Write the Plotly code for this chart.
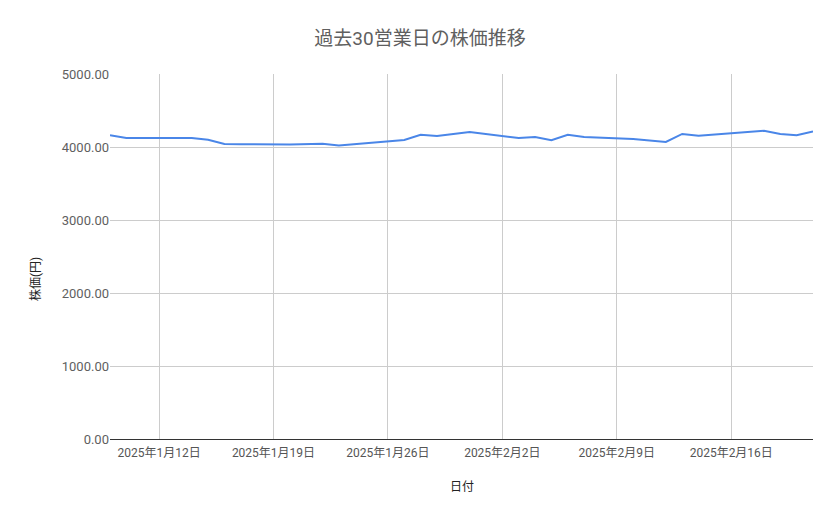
import plotly.graph_objects as go

dates = ["2025-01-09", "2025-01-10", "2025-01-14", "2025-01-15", "2025-01-16", "2025-01-17",
         "2025-01-20", "2025-01-21", "2025-01-22", "2025-01-23", "2025-01-24",
         "2025-01-27", "2025-01-28", "2025-01-29", "2025-01-30", "2025-01-31",
         "2025-02-03", "2025-02-04", "2025-02-05", "2025-02-06", "2025-02-07",
         "2025-02-10", "2025-02-12", "2025-02-13", "2025-02-14",
         "2025-02-17", "2025-02-18", "2025-02-19", "2025-02-20", "2025-02-21"]
prices = [4160, 4122, 4122, 4100, 4042, 4037,
          4034, 4037, 4044, 4021, 4037,
          4095, 4168, 4150, 4177, 4206,
          4123, 4136, 4092, 4168, 4138,
          4110, 4069, 4179, 4155,
          4200, 4222, 4179, 4160, 4214]

tick_dates = ["2025-01-12", "2025-01-19", "2025-01-26", "2025-02-02", "2025-02-09", "2025-02-16"]
tick_labels = ["2025年1月12日", "2025年1月19日", "2025年1月26日", "2025年2月2日", "2025年2月9日", "2025年2月16日"]
y_ticks = [0, 1000, 2000, 3000, 4000, 5000]

FONT = "Roboto, 'Noto Sans CJK JP', sans-serif"

# page has an 8px body margin; figure is offset by it
W, H = 839, 519
ML, MT, MR, MB = 102, 66, 34, 88
plot_h = H - MT - MB
plot_w = W - ML - MR

fig = go.Figure()
fig.add_trace(go.Scatter(x=dates, y=prices, mode="lines",
                         line=dict(color="#4a86e8", width=2), name="株価"))

fig.update_layout(
    width=W, height=H,
    margin=dict(l=ML, r=MR, t=MT, b=MB),
    paper_bgcolor="white", plot_bgcolor="white",
    font=dict(family=FONT, size=12, color="#444444"),
    showlegend=False,
    title=dict(text="過去30営業日の株価推移", x=412 / W, xanchor="center",
               y=1 - 30 / H, yanchor="middle",
               font=dict(family=FONT, size=19, color="#5f5f5f")),
    xaxis=dict(type="date", range=["2025-01-09", "2025-02-21"],
               tickvals=tick_dates, ticktext=tick_labels,
               showgrid=True, gridcolor="#cccccc", gridwidth=1,
               showline=True, linecolor="#333333", linewidth=1,
               ticks="", tickfont=dict(size=12, color="#555555"),
               ticklabelstandoff=3,
               zeroline=False, fixedrange=True),
    yaxis=dict(range=[0, 5000], tickvals=y_ticks, tickformat=".2f",
               showgrid=True, gridcolor="#cccccc", gridwidth=1,
               showline=False, zeroline=False, ticks="",
               tickfont=dict(size=13, color="#5f5f5f"), fixedrange=True),
    annotations=[
        dict(text="日付", xref="paper", yref="paper", x=0.5, y=-(487 - 439) / plot_h,
             xanchor="center", yanchor="middle", showarrow=False,
             font=dict(family=FONT, size=12, color="#222222")),
        dict(text="株価(円)", xref="paper", yref="paper", x=-(110 - 35) / plot_w,
             y=(439 - 279) / plot_h,
             xanchor="center", yanchor="middle", showarrow=False, textangle=-90,
             font=dict(family=FONT, size=12, color="#222222")),
    ],
)

fig.write_html("out.html")
